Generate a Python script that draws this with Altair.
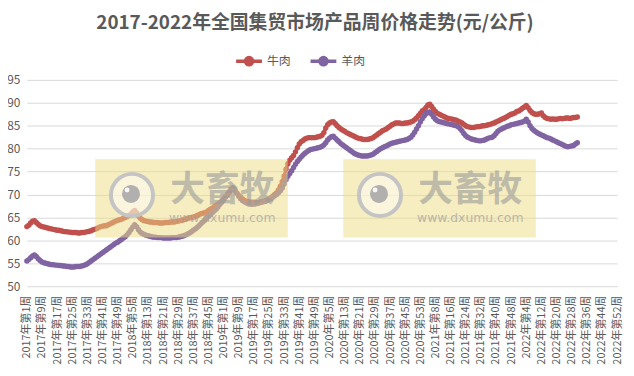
import altair as alt
import pandas as pd

# ---------------- data ----------------
years = [2017, 2018, 2019, 2020, 2021, 2022]
weeks_in_year = [52, 52, 52, 53, 52, 52]
categories = [f"{y}年第{w}周" for y, n in zip(years, weeks_in_year) for w in range(1, n + 1)]
tick_labels = categories[::8]

series_names = ["牛肉", "羊肉"]
series_colors = ["#C0504D", "#8064A2"]

beef = [
    63.0, 63.3, 63.8, 64.2, 64.3, 63.9, 63.5, 63.2, 63.0, 62.9,
    62.8, 62.7, 62.6, 62.5, 62.4, 62.3, 62.2, 62.2, 62.1, 62.0,
    61.9, 61.9, 61.8, 61.8, 61.7, 61.7, 61.7, 61.6, 61.6, 61.7,
    61.7, 61.8, 61.9, 62.0, 62.1, 62.3, 62.4, 62.6, 62.8, 63.0,
    63.1, 63.2, 63.2, 63.4, 63.6, 63.8, 64.0, 64.2, 64.4, 64.5,
    64.6, 64.8, 65.0, 65.2, 65.4, 65.7, 66.2, 66.5, 66.0, 65.3,
    64.8, 64.5, 64.3, 64.2, 64.1, 64.0, 64.0, 63.9, 63.9, 63.9,
    63.8, 63.8, 63.8, 63.9, 63.9, 63.9, 64.0, 64.0, 64.0, 64.1,
    64.2, 64.3, 64.4, 64.5, 64.6, 64.8, 64.9, 65.0, 65.1, 65.2,
    65.4, 65.6, 65.8, 65.9, 66.0, 66.2, 66.5, 66.8, 67.0, 67.3,
    67.6, 67.9, 68.2, 68.6, 69.0, 69.5, 70.0, 70.5, 71.0, 71.3,
    70.9, 70.3, 69.8, 69.4, 69.0, 68.7, 68.5, 68.4, 68.3, 68.3,
    68.3, 68.2, 68.2, 68.3, 68.4, 68.5, 68.6, 68.8, 69.0, 69.3,
    69.6, 70.0, 70.4, 71.0, 71.8, 72.8, 74.0, 75.5, 76.7, 77.5,
    78.0, 78.5, 79.3, 80.2, 81.0, 81.5, 81.8, 82.1, 82.3, 82.4,
    82.4, 82.4, 82.4, 82.5, 82.6, 82.7, 82.9, 83.5, 84.5, 85.2,
    85.6, 85.8, 85.9, 85.5, 85.0, 84.6, 84.3, 84.0, 83.8, 83.5,
    83.3, 83.1, 82.9, 82.7, 82.5, 82.3, 82.2, 82.1, 82.0, 82.0,
    82.0, 82.1, 82.2, 82.4, 82.7, 83.0, 83.3, 83.6, 83.9, 84.1,
    84.3, 84.6, 84.9, 85.2, 85.4, 85.6, 85.6, 85.6, 85.5, 85.5,
    85.6, 85.6, 85.7, 85.8, 86.0, 86.3, 86.7, 87.2, 87.7, 88.2,
    88.5, 89.0, 89.5, 89.7, 89.2, 88.6, 88.1, 87.7, 87.5, 87.3,
    87.1, 86.9, 86.7, 86.6, 86.5, 86.4, 86.3, 86.2, 86.0, 85.8,
    85.6, 85.3, 85.0, 84.8, 84.7, 84.6, 84.6, 84.7, 84.8, 84.8,
    84.9, 85.0, 85.0, 85.1, 85.2, 85.3, 85.5, 85.6, 85.8, 86.0,
    86.2, 86.4, 86.6, 86.8, 87.0, 87.3, 87.5, 87.6, 87.8, 88.1,
    88.2, 88.5, 88.8, 89.1, 89.4, 88.9, 88.3, 87.9, 87.6, 87.5,
    87.5, 87.6, 87.8, 87.2, 86.8, 86.6, 86.5, 86.4, 86.5, 86.4,
    86.4, 86.5, 86.6, 86.5, 86.6, 86.7, 86.7, 86.6, 86.7, 86.8,
    86.8, 86.9,
]

mutton = [
    55.5, 55.8, 56.2, 56.6, 56.8, 56.5, 56.0, 55.6, 55.3, 55.1,
    55.0, 54.9, 54.8, 54.7, 54.7, 54.6, 54.6, 54.5, 54.5, 54.4,
    54.4, 54.3, 54.3, 54.2, 54.2, 54.2, 54.3, 54.3, 54.3, 54.4,
    54.5, 54.7, 54.9, 55.2, 55.5, 55.8, 56.1, 56.4, 56.7, 57.0,
    57.3, 57.6, 57.9, 58.2, 58.5, 58.8, 59.1, 59.4, 59.6, 59.9,
    60.2, 60.5, 60.8, 61.2, 61.7, 62.3, 62.9, 63.4, 63.0, 62.3,
    61.8, 61.5, 61.3, 61.1, 61.0, 60.9, 60.8, 60.7, 60.7, 60.6,
    60.6, 60.6, 60.5, 60.5, 60.5, 60.5, 60.5, 60.6, 60.6, 60.6,
    60.7, 60.8, 60.9, 61.0, 61.2, 61.4, 61.6, 61.9, 62.2, 62.5,
    62.8, 63.2, 63.6, 64.0, 64.4, 64.8, 65.2, 65.6, 66.0, 66.4,
    66.8, 67.3, 67.8, 68.3, 68.8, 69.4, 70.0, 70.6, 71.2, 71.5,
    71.0, 70.3, 69.6, 69.1, 68.7, 68.4, 68.2, 68.0, 67.9, 67.9,
    67.9, 68.0, 68.1, 68.2, 68.3, 68.4, 68.5, 68.7, 68.9, 69.1,
    69.4, 69.7, 70.0, 70.4, 70.8, 71.4, 72.3, 73.2, 74.0, 74.6,
    75.2, 75.9, 76.6, 77.2, 77.7, 78.2, 78.6, 79.0, 79.3, 79.6,
    79.8, 79.9, 80.0, 80.1, 80.2, 80.3, 80.5, 80.8, 81.3, 81.9,
    82.3, 82.6, 82.7, 82.3, 81.9, 81.5, 81.1, 80.8, 80.5, 80.2,
    79.9, 79.6, 79.3, 79.0, 78.8, 78.6, 78.5, 78.4, 78.4, 78.4,
    78.4, 78.5, 78.6, 78.8, 79.1, 79.4, 79.7, 80.0, 80.2, 80.4,
    80.6, 80.8, 81.0, 81.2, 81.3, 81.4, 81.5, 81.6, 81.7, 81.8,
    81.9, 82.0, 82.2, 82.5, 83.0, 83.6, 84.3, 85.0, 85.8, 86.5,
    87.1, 87.6, 87.9, 88.0, 87.5, 86.9, 86.4, 86.1, 85.9, 85.8,
    85.7, 85.6, 85.5, 85.4, 85.3, 85.2, 85.1, 85.0, 84.8, 84.4,
    83.9, 83.3, 82.8, 82.5, 82.3, 82.1, 82.0, 81.9, 81.8, 81.7,
    81.7, 81.8, 81.9, 82.1, 82.3, 82.4, 82.5, 82.8, 83.3, 83.8,
    84.1, 84.3, 84.5, 84.7, 84.9, 85.0, 85.2, 85.3, 85.4, 85.5,
    85.6, 85.7, 85.8, 86.0, 86.4, 85.8, 85.0, 84.4, 84.0, 83.7,
    83.4, 83.2, 83.0, 82.8, 82.6, 82.4, 82.3, 82.1, 81.9, 81.7,
    81.5, 81.3, 81.1, 80.9, 80.7, 80.5, 80.4, 80.5, 80.6, 80.7,
    81.0, 81.3,
]

y_ticks = [50, 55, 60, 65, 70, 75, 80, 85, 90, 95]
title_text = "2017-2022年全国集贸市场产品周价格走势(元/公斤)"

rows = []
for name, vals in zip(series_names, [beef, mutton]):
    for i, v in enumerate(vals):
        rows.append({"week": categories[i], "series": name, "price": v, "idx": i})
df = pd.DataFrame(rows)

# ---------------- chart ----------------
FONT = "Noto Sans CJK SC"
TXT = "#595959"
W, H = 595, 208

x_enc = alt.X(
    "week:O",
    scale=alt.Scale(type="point", domain=categories, padding=0),
    axis=alt.Axis(
        values=tick_labels, labelAngle=-90, labelFont=FONT, labelFontSize=11,
        labelColor=TXT, domain=False, ticks=False, grid=False, labelPadding=9,
        labelOverlap=False, labelAlign="right", labelBaseline="middle",
    ),
    title=None,
)
y_enc = alt.Y(
    "price:Q",
    scale=alt.Scale(domain=[50, 95], nice=False, zero=False),
    axis=alt.Axis(
        values=y_ticks, labelFont=FONT, labelFontSize=12, labelColor=TXT,
        domain=False, ticks=False, grid=True, gridColor="#D9D9D9",
        gridWidth=1, labelPadding=7,
    ),
    title=None,
)
color_enc = alt.Color(
    "series:N",
    scale=alt.Scale(domain=series_names, range=series_colors),
    legend=alt.Legend(
        orient="none", legendX=209, legendY=-34, direction="horizontal",
        title=None, labelFont=FONT, labelFontSize=12, labelColor=TXT,
        symbolType="M-1,0L1,0M-0.28,0a0.28,0.28 0 1,0 0.56,0a0.28,0.28 0 1,0 -0.56,0",
        symbolSize=676, symbolStrokeWidth=3.5, columnPadding=12, labelOffset=3,
    ),
)

lines = alt.Chart(df).mark_line(
    strokeWidth=3.5,
    point=alt.OverlayMarkDef(filled=True, size=30, opacity=1),
).encode(x=x_enc, y=y_enc, color=color_enc, order="idx:Q")

one = pd.DataFrame({"k": [0]})


def watermark(dx):
    base = alt.Chart(one)
    box = base.mark_rect(color="#EEDC82", opacity=0.5).encode(
        x=alt.value(69 + dx), x2=alt.value(263 + dx), y=alt.value(80), y2=alt.value(159)
    )
    ring = base.mark_point(
        shape="circle", size=1800, stroke="#C4C4C4", strokeWidth=4,
        fill="#FFFFFF", fillOpacity=0.45, opacity=1,
    ).encode(x=alt.value(106 + dx), y=alt.value(116))
    dot = base.mark_point(shape="circle", size=330, filled=True, color="#A8A8A8", opacity=0.9).encode(
        x=alt.value(105 + dx), y=alt.value(115)
    )
    hl = base.mark_point(shape="circle", size=25, filled=True, color="#FFFFFF", opacity=0.9).encode(
        x=alt.value(101 + dx), y=alt.value(111)
    )
    big = base.mark_text(
        text="大畜牧", font=FONT, fontSize=35, fontWeight="bold", color="#9A9A9A",
        opacity=0.6, align="center", baseline="middle",
    ).encode(x=alt.value(197 + dx), y=alt.value(111))
    small = base.mark_text(
        text="www.dxumu.com", font="DejaVu Sans", fontSize=12.5, color="#A0A0A0",
        opacity=0.7, align="center", baseline="middle",
    ).encode(x=alt.value(197 + dx), y=alt.value(139))
    return [box, ring, dot, hl, big, small]


chart = alt.layer(lines, *watermark(0), *watermark(250)).properties(
    width=W, height=H,
    autosize=alt.AutoSizeParams(type="none"),
    padding={"left": 19, "top": 71, "right": 9, "bottom": 80},
    title=alt.TitleParams(
        title_text, font=FONT, fontSize=19, fontWeight="bold", color=TXT,
        anchor="middle", offset=13, dx=-7,
    ),
    background="#FFFFFF",
).configure_view(stroke=None)

chart.save("out.html", embed_options={"renderer": "svg", "actions": False})
